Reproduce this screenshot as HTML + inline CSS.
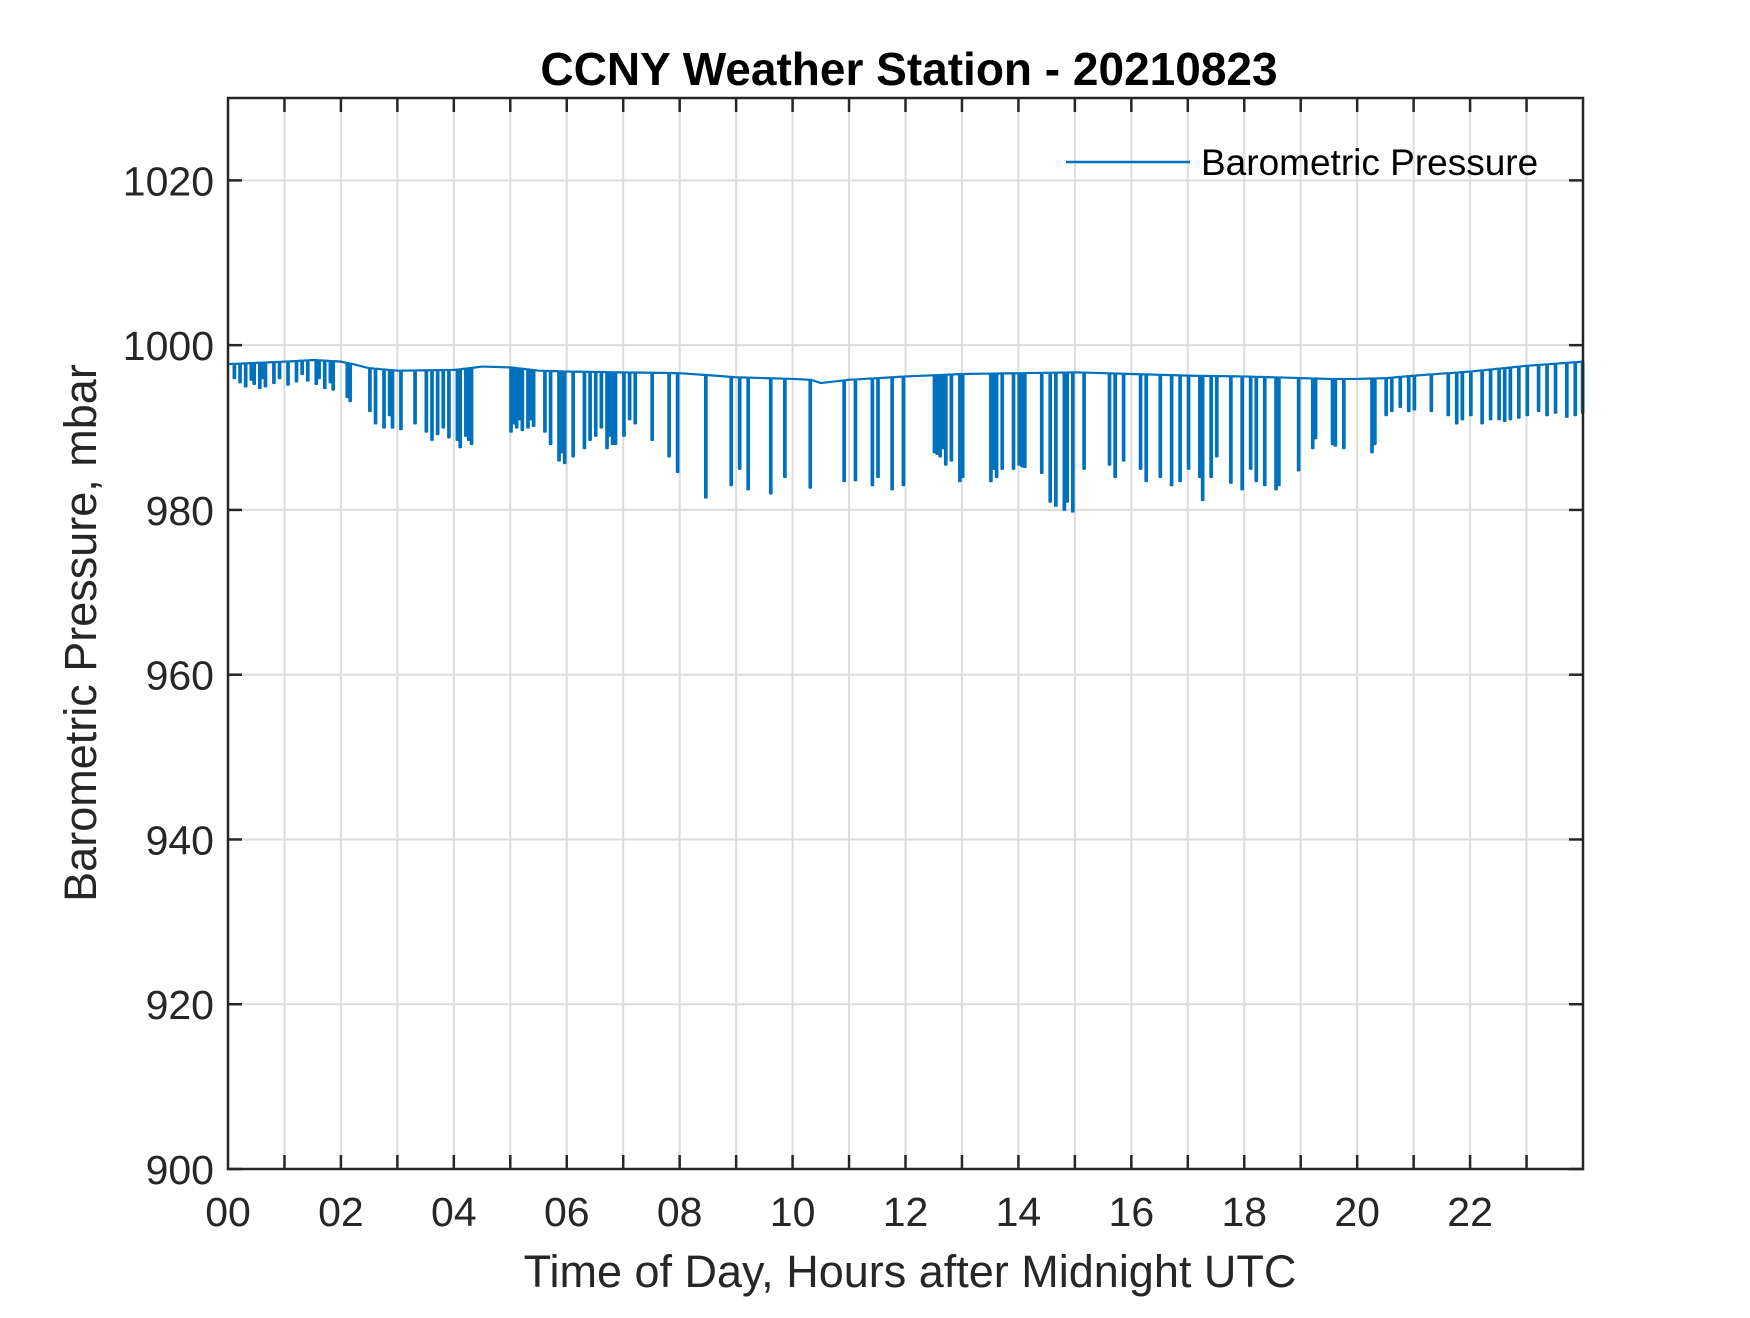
<!DOCTYPE html>
<html><head><meta charset="utf-8"><style>
html,body{margin:0;padding:0;background:#fff;}
svg text{font-family:"Liberation Sans",Arial,sans-serif;fill:#262626;}
</style></head><body>
<svg id="chart" width="1750" height="1313" viewBox="0 0 1750 1313" xmlns="http://www.w3.org/2000/svg">
<rect width="1750" height="1313" fill="#fff"/>
<g id="grid"></g>
<g id="series"></g>
<g id="axes"></g>
<text x="909" y="85" text-anchor="middle" font-size="46" font-weight="bold" style="fill:#000">CCNY Weather Station - 20210823</text>
<text x="910" y="1287" text-anchor="middle" font-size="45">Time of Day, Hours after Midnight UTC</text>
<text transform="translate(96,633) rotate(-90)" text-anchor="middle" font-size="45">Barometric Pressure, mbar</text>
<g>
<line x1="1066" y1="162" x2="1190" y2="162" stroke="#0072BD" stroke-width="2.5"/>
<text x="1201" y="175" font-size="37" style="fill:#000">Barometric Pressure</text>
</g>
</svg>
<script>
const baseHours=[0,1,1.5,2,2.5,3,4,4.5,5,5.5,6,7,8,9,10,10.3,10.5,11,12,13,14,15,16,17,18,19,19.5,20,20.5,21,22,23,24];
const baseValues=[997.7,998.0,998.2,998.0,997.2,996.9,997.0,997.4,997.3,996.9,996.8,996.7,996.6,996.1,995.9,995.8,995.4,995.8,996.2,996.5,996.6,996.7,996.5,996.3,996.2,996.0,995.9,995.9,996.0,996.3,996.8,997.5,998.0];
const dipHours=[0.1,0.2,0.3,0.4,0.45,0.55,0.6,0.65,0.8,0.9,1.05,1.2,1.3,1.4,1.55,1.6,1.7,1.8,1.85,2.1,2.15,2.5,2.6,2.75,2.85,2.9,3.05,3.3,3.5,3.6,3.7,3.8,3.9,4.05,4.1,4.2,4.25,4.3,5.0,5.05,5.1,5.15,5.2,5.3,5.35,5.4,5.6,5.7,5.85,5.9,5.95,6.1,6.3,6.4,6.5,6.6,6.7,6.75,6.8,6.85,7.0,7.1,7.2,7.5,7.8,7.95,8.45,8.9,9.05,9.2,9.6,9.85,10.3,10.9,11.1,11.4,11.5,11.75,11.95,12.5,12.55,12.6,12.65,12.7,12.8,12.95,13.0,13.5,13.55,13.6,13.7,13.9,14.0,14.05,14.1,14.4,14.55,14.65,14.8,14.85,14.95,15.15,15.6,15.7,15.85,16.15,16.25,16.5,16.7,16.85,17.0,17.2,17.25,17.4,17.5,17.75,17.95,18.1,18.2,18.35,18.55,18.6,18.95,19.2,19.25,19.55,19.6,19.75,20.25,20.3,20.5,20.6,20.75,20.9,21.0,21.3,21.6,21.75,21.85,22.0,22.2,22.35,22.5,22.6,22.7,22.85,23.0,23.2,23.35,23.5,23.7,23.85,23.98];
const dipValues=[996,995.5,995,995.8,995.3,994.8,996,995,995.4,996,995.2,995.6,996.5,995.7,995.3,996,994.8,995.5,994.6,993.7,993.2,992,990.5,990,991.5,990,989.8,990.5,989.5,988.5,989.2,990,988.8,988.5,987.6,989,988.5,988,989.5,990.5,990,991,989.7,990,991,990.2,989.5,988,986,987,985.7,986.5,987.5,988.5,989,990,987.5,989,988,988,989,991,990.5,988.5,986.5,984.6,981.5,983,985,982.5,982,984,982.7,983.5,983.6,983,984,982.5,983,987,986.8,986.5,987.5,985.5,986,983.5,984,983.5,985,984,985,985,985.5,985.3,985.2,984.5,981,980.5,980,981,979.8,985,985.5,984,986,985,983.5,984,983,983.5,985,984,981.2,984,986.5,983.3,982.5,985,983.5,983,982.5,983,984.8,987.5,988.7,988,987.8,987.5,987,988,991.5,992,992.5,992,992.2,992,991.5,990.5,991,991.5,990.5,991,991,990.8,991,991.2,991.5,992,991.5,991.8,991.3,991.5,991.8];
const xTickValues=[0,2,4,6,8,10,12,14,16,18,20,22];
const xTickLabels=["00","02","04","06","08","10","12","14","16","18","20","22"];
const yTickValues=[900,920,940,960,980,1000,1020];
const yTickLabels=["900","920","940","960","980","1000","1020"];

const L=228,R=1583,T=98,B=1169,XMIN=0,XMAX=24,YMIN=900,YMAX=1030;
const NS="http://www.w3.org/2000/svg";
const xs=h=>L+(h-XMIN)/(XMAX-XMIN)*(R-L);
const ys=v=>B-(v-YMIN)/(YMAX-YMIN)*(B-T);
function mk(tag,attrs,parent){const e=document.createElementNS(NS,tag);for(const k in attrs)e.setAttribute(k,attrs[k]);parent.appendChild(e);return e;}
function baseAt(h){for(let i=1;i<baseHours.length;i++){if(h<=baseHours[i]){const t=(h-baseHours[i-1])/(baseHours[i]-baseHours[i-1]);return baseValues[i-1]+t*(baseValues[i]-baseValues[i-1]);}}return baseValues[baseValues.length-1];}
const grid=document.getElementById('grid'),axes=document.getElementById('axes'),series=document.getElementById('series');
for(let h=1;h<24;h++){const g=mk('line',{x1:xs(h),x2:xs(h),y1:T,y2:B,stroke:'#dcdcdc','stroke-width':2},grid);


const t1=mk('line',{x1:xs(h),x2:xs(h),y1:B,y2:B-14,stroke:'#262626','stroke-width':2.5},axes);


const t2=mk('line',{x1:xs(h),x2:xs(h),y1:T,y2:T+14,stroke:'#262626','stroke-width':2.5},axes);

}
yTickValues.forEach((v,i)=>{const y=ys(v);
if(v>YMIN){const g=mk('line',{x1:L,x2:R,y1:y,y2:y,stroke:'#dcdcdc','stroke-width':2},grid);

}
const t1=mk('line',{x1:L,x2:L+14,y1:y,y2:y,stroke:'#262626','stroke-width':2.5},axes);


const t2=mk('line',{x1:R,x2:R-14,y1:y,y2:y,stroke:'#262626','stroke-width':2.5},axes);


const tx=mk('text',{x:L-14,y:y+15,'text-anchor':'end','font-size':41},axes);tx.textContent=yTickLabels[i];

});
xTickValues.forEach((h,i)=>{const tx=mk('text',{x:xs(h),y:1226,'text-anchor':'middle','font-size':41},axes);tx.textContent=xTickLabels[i];

});
const box=mk('rect',{x:L,y:T,width:R-L,height:B-T,fill:'none',stroke:'#262626','stroke-width':2.5},axes);


const pts=[];
baseHours.forEach(h=>pts.push([h,baseAt(h),0]));
dipHours.forEach((h,i)=>pts.push([h,dipValues[i],1]));
pts.sort((a,b)=>a[0]-b[0]);
let d='M'+xs(0)+','+ys(baseValues[0]);
pts.forEach(p=>{const x=xs(p[0]);if(p[2]){const b=ys(baseAt(p[0]));d+=' L'+x+','+b+' L'+x+','+ys(p[1])+' L'+(x+1.5)+','+ys(p[1])+' L'+(x+1.5)+','+b;}else d+=' L'+x+','+ys(p[1]);});
const path=mk('path',{d:d,fill:'none',stroke:'#0072BD','stroke-width':2.2,'stroke-linejoin':'round'},series);


</script>
</body></html>
